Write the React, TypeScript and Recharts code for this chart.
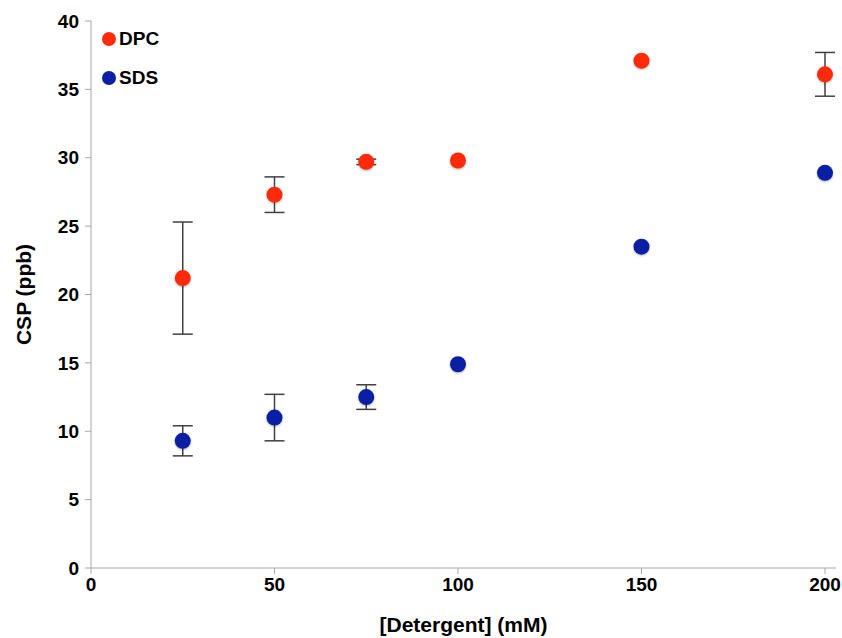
import React from 'react';
import {
  ScatterChart,
  Scatter,
  XAxis,
  YAxis,
  ErrorBar,
  Label
} from 'recharts';

const detergent = [25, 50, 75, 100, 150, 200];
const dpcCsp = [21.2, 27.3, 29.7, 29.8, 37.1, 36.1];
const dpcErr = [4.1, 1.3, 0.2, 0, 0, 1.6];
const sdsCsp = [9.3, 11.0, 12.5, 14.9, 23.5, 28.9];
const sdsErr = [1.1, 1.7, 0.9, 0, 0, 0];

const xTicks = [0, 50, 100, 150, 200];
const yTicks = [0, 5, 10, 15, 20, 25, 30, 35, 40];

const dpcData = detergent.map((x, i) => ({ x, y: dpcCsp[i], err: dpcErr[i] }));
const sdsData = detergent.map((x, i) => ({ x, y: sdsCsp[i], err: sdsErr[i] }));

const FONT = '"Liberation Sans", Arial, sans-serif';
const AXIS_GREY = '#a6a6a6';
const DPC_RED = '#ff2a0a';
const SDS_BLUE = '#0a1fa3';

const Dot = (props: any) => {
  const { cx, cy, fill } = props;
  return <circle cx={cx} cy={cy} r={8} fill={fill} style={{ filter: 'drop-shadow(0px 1.5px 1px rgba(0,0,0,0.3))' }} />;
};

const series = [
  { name: 'DPC', color: DPC_RED },
  { name: 'SDS', color: SDS_BLUE }
];

const LegendBox = () => (
  <div style={{ position: 'absolute', left: 101, top: 19, fontFamily: FONT, fontWeight: 'bold', fontSize: 19, color: '#000' }}>
    {series.map(item => (
      <div key={item.name} style={{ display: 'flex', alignItems: 'center', height: 39 }}>
        <svg width={16} height={16} style={{ marginRight: 2 }}>
          <circle cx={8} cy={8} r={7} fill={item.color} />
        </svg>
        <span>{item.name}</span>
      </div>
    ))}
  </div>
);

export default function App() {
  return (
    <div style={{ position: 'absolute', left: 0, top: 0, width: 842, height: 638, background: '#fff' }}>
      <ScatterChart width={842} height={638} margin={{ top: 21, right: 6, bottom: 0, left: 0 }}>
        <XAxis
          type="number"
          dataKey="x"
          domain={[0, 203]}
          ticks={xTicks}
          height={70}
          stroke={AXIS_GREY}
          tickSize={6}
          tick={{ fill: '#000', fontSize: 19, fontWeight: 'bold', fontFamily: FONT }}
          tickMargin={4}
        >
          <Label
            value="[Detergent] (mM)"
            position="insideBottom"
            offset={6}
            style={{ fill: '#000', fontSize: 21, fontWeight: 'bold', fontFamily: FONT }}
          />
        </XAxis>
        <YAxis
          type="number"
          dataKey="y"
          domain={[0, 40]}
          ticks={yTicks}
          width={91}
          stroke={AXIS_GREY}
          tickSize={6}
          tickMargin={6}
          tick={{ fill: '#000', fontSize: 19, fontWeight: 'bold', fontFamily: FONT }}
        >
          <Label
            value="CSP (ppb)"
            angle={-90}
            position="insideLeft"
            offset={24}
            style={{ textAnchor: 'middle', fill: '#000', fontSize: 21, fontWeight: 'bold', fontFamily: FONT }}
          />
        </YAxis>
        <Scatter name="DPC" data={dpcData} fill={DPC_RED} shape={<Dot />} isAnimationActive={false}>
          <ErrorBar dataKey="err" direction="y" width={10} stroke="#404040" strokeWidth={1.5} />
        </Scatter>
        <Scatter name="SDS" data={sdsData} fill={SDS_BLUE} shape={<Dot />} isAnimationActive={false}>
          <ErrorBar dataKey="err" direction="y" width={10} stroke="#404040" strokeWidth={1.5} />
        </Scatter>
      </ScatterChart>
      <LegendBox />
    </div>
  );
}
